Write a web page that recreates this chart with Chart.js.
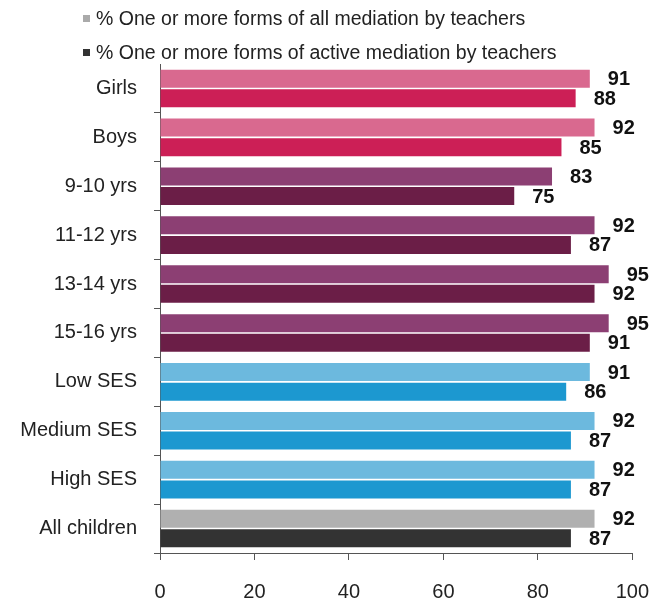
<!DOCTYPE html>
<html>
<head>
<meta charset="utf-8">
<script src="https://cdn.jsdelivr.net/npm/chart.js@4"></script>
<style>
  html, body { margin: 0; padding: 0; background: #fff; }
  #wrap { position: relative; width: 669px; height: 600px; }
  #legend { position: absolute; left: 83px; top: 1px; font: 19.5px "Liberation Sans", Arial, sans-serif; color: #222; }
  .lg-item { display: flex; align-items: center; height: 34px; }
  .lg-box { width: 7px; height: 7px; margin-right: 6px; }
</style>
</head>
<body>
<div id="wrap">
  <canvas id="chart" width="669" height="600"></canvas>
  <div id="legend"></div>
</div>
<script>
'use strict';

const categories = ['Girls', 'Boys', '9-10 yrs', '11-12 yrs', '13-14 yrs', '15-16 yrs', 'Low SES', 'Medium SES', 'High SES', 'All children'];
const allMediation    = [91, 92, 83, 92, 95, 95, 91, 92, 92, 92];
const activeMediation = [88, 85, 75, 87, 92, 91, 86, 87, 87, 87];
const xTicks = [0, 20, 40, 60, 80, 100];

// colour per group: gender, age, SES, all
const lightColors = ['#d9698f','#d9698f','#8c3f73','#8c3f73','#8c3f73','#8c3f73','#6cb9de','#6cb9de','#6cb9de','#b0b0b0'];
const darkColors  = ['#cc1f56','#cc1f56','#6b1e47','#6b1e47','#6b1e47','#6b1e47','#1c98d0','#1c98d0','#1c98d0','#333333'];

const FONT = '"Liberation Sans", Arial, sans-serif';

const valueLabels = {
  id: 'valueLabels',
  afterDatasetsDraw(chart) {
    const ctx = chart.ctx;
    ctx.save();
    ctx.font = 'bold 20px ' + FONT;
    ctx.fillStyle = '#111';
    ctx.textAlign = 'left';
    ctx.textBaseline = 'middle';
    chart.data.datasets.forEach((ds, di) => {
      chart.getDatasetMeta(di).data.forEach((bar, i) => {
        ctx.fillText(ds.data[i], bar.x + 18, bar.y + 1);
      });
    });
    ctx.restore();
  }
};

const chart = new Chart(document.getElementById('chart'), {
  type: 'bar',
  data: {
    labels: categories,
    datasets: [
      { label: '% One or more forms of all mediation by teachers', data: allMediation, backgroundColor: lightColors, legendColor: '#aaaaaa' },
      { label: '% One or more forms of active mediation by teachers', data: activeMediation, backgroundColor: darkColors, legendColor: '#333333' }
    ]
  },
  options: {
    indexAxis: 'y',
    responsive: false,
    animation: false,
    categoryPercentage: 0.8,
    barPercentage: 0.92,
    layout: { padding: { top: 64, right: 36, bottom: 0, left: 0 } },
    plugins: { legend: { display: false }, tooltip: { enabled: false } },
    scales: {
      x: {
        min: 0, max: 100,
        afterBuildTicks: s => { s.ticks = xTicks.map(v => ({ value: v })); },
        afterFit: s => { s.height = 47; },
        grid: { drawOnChartArea: false, tickLength: 7, color: '#555' },
        border: { color: '#555' },
        ticks: { color: '#222', padding: 20, font: { size: 20, family: FONT } }
      },
      y: {
        afterFit: s => { s.width = 160; },
        grid: {
          drawOnChartArea: false, tickLength: 6, offset: true,
          color: c => c.index === 0 ? 'rgba(0,0,0,0)' : '#555'
        },
        border: { color: '#555' },
        ticks: { color: '#222', padding: 17, font: { size: 20, family: FONT } }
      }
    }
  },
  plugins: [valueLabels]
});

document.getElementById('legend').innerHTML = chart.data.datasets.map(ds =>
  `<div class="lg-item"><span class="lg-box" style="background:${ds.legendColor}"></span>${ds.label}</div>`
).join('');
</script>
</body>
</html>
